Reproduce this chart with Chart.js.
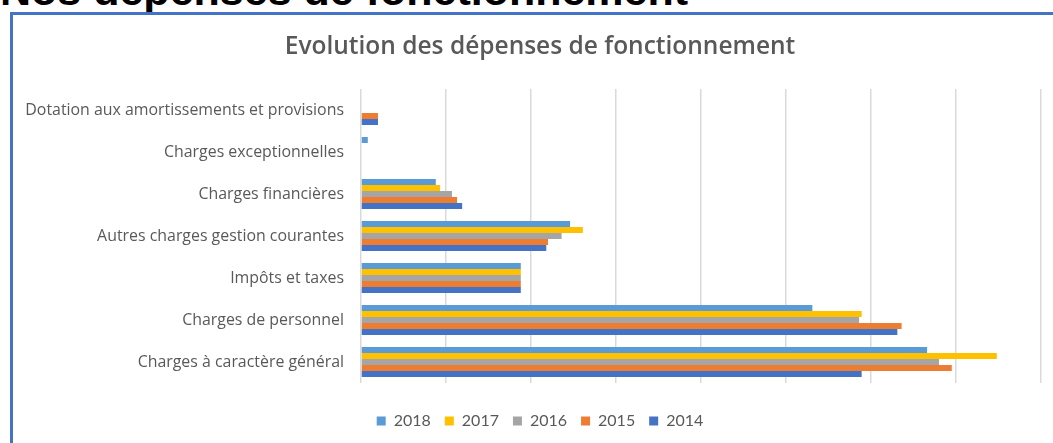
<!DOCTYPE html>
<html lang="fr">
<head>
    <meta charset="UTF-8">
    <title>Evolution des dépenses de fonctionnement</title>
    <script src="https://cdn.jsdelivr.net/npm/chart.js"></script>
    <style>
        body {
            margin: 0;
            padding: 0;
            background: #fff;
            width: 1053px;
            height: 443px;
            overflow: hidden;
            position: relative;
        }

        #heading {
            position: absolute;
            left: 0;
            top: -31px;
            font-family: 'Liberation Sans', Arial, sans-serif;
            font-weight: bold;
            font-size: 43px;
            line-height: 43px;
            color: #000;
            white-space: nowrap;
        }

        #frame {
            position: absolute;
            left: 10px;
            top: 12px;
            width: 1100px;
            height: 500px;
            border-left: 3px solid #4472C4;
            border-top: 3px solid #4472C4;
        }

        #chart-box {
            position: absolute;
            left: 0;
            top: 0;
            width: 1060px;
            height: 439px;
        }
    </style>
</head>
<body>
    <div id="heading">Nos dépenses de fonctionnement</div>
    <div id="frame"></div>
    <div id="chart-box">
        <canvas id="myChart"></canvas>
    </div>
    <script>
        // categories, top to bottom
        const categories = [
            'Dotation aux amortissements et provisions',
            'Charges exceptionnelles',
            'Charges financières',
            'Autres charges gestion courantes',
            'Impôts et taxes',
            'Charges de personnel',
            'Charges à caractère général'
        ];

        // values (one gridline = 100)
        const values2018 = [0, 8, 88, 246, 188, 531, 666];
        const values2017 = [0, 0, 93, 261, 188, 589, 748];
        const values2016 = [0, 0, 107, 236, 188, 586, 680];
        const values2015 = [20, 0, 113, 220, 188, 636, 695];
        const values2014 = [20, 0, 119, 218, 188, 631, 589];

        const xMin = 0;
        const xMax = 800;
        const xStep = 100;

        const grey = '#595959';

        const ctx = document.getElementById('myChart').getContext('2d');
        const myChart = new Chart(ctx, {
            type: 'bar',
            data: {
                labels: categories,
                datasets: [
                    { label: '2018', data: values2018, backgroundColor: '#5B9BD5' },
                    { label: '2017', data: values2017, backgroundColor: '#FFC000' },
                    { label: '2016', data: values2016, backgroundColor: '#A5A5A5' },
                    { label: '2015', data: values2015, backgroundColor: '#ED7D31' },
                    { label: '2014', data: values2014, backgroundColor: '#4472C4' }
                ]
            },
            options: {
                indexAxis: 'y',
                responsive: true,
                maintainAspectRatio: false,
                animation: false,
                categoryPercentage: 0.714,
                barPercentage: 1,
                layout: {
                    padding: { left: 20, right: 0, top: 0, bottom: 0 }
                },
                plugins: {
                    title: {
                        display: true,
                        text: 'Evolution des dépenses de fonctionnement',
                        color: grey,
                        font: { family: 'Open Sans', size: 24.5, weight: 600 },
                        padding: { top: 32.3, bottom: 27.3 }
                    },
                    legend: {
                        position: 'bottom',
                        labels: {
                            color: grey,
                            font: { family: 'Lato', size: 16 },
                            boxWidth: 9,
                            boxHeight: 9,
                            padding: 14
                        }
                    },
                    tooltip: { enabled: false }
                },
                scales: {
                    x: {
                        min: xMin,
                        max: xMax,
                        ticks: { display: false, stepSize: xStep },
                        grid: { color: '#D9D9D9', lineWidth: 1.5, drawTicks: false },
                        border: { display: false },
                        afterFit: function (scale) { scale.height = 16; }
                    },
                    y: {
                        ticks: {
                            color: grey,
                            font: { family: 'Open Sans', size: 15.9 },
                            padding: 17
                        },
                        grid: { display: false, drawTicks: false },
                        border: { display: false },
                        afterFit: function (scale) { scale.width = 341; }
                    },
                    // empty right-hand margin inside the frame
                    y2: {
                        type: 'linear',
                        position: 'right',
                        ticks: { display: false },
                        grid: { display: false, drawTicks: false },
                        border: { display: false },
                        afterFit: function (scale) { scale.width = 19; }
                    }
                }
            }
        });
    </script>
</body>
</html>
